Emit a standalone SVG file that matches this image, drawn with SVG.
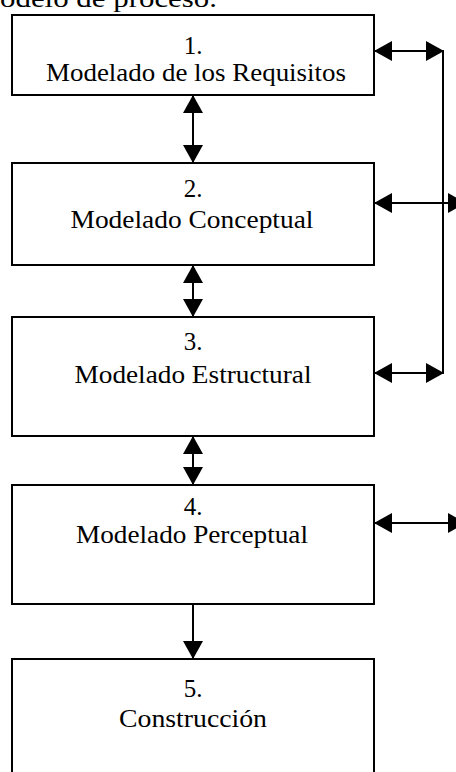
<svg xmlns="http://www.w3.org/2000/svg" width="456" height="772" viewBox="0 0 456 772">
<style>
.box{fill:#fff;stroke:#000;stroke-width:2}
.t{font-family:"Liberation Serif","Times New Roman",serif;font-size:25px;fill:#000;text-anchor:middle}
.c{stroke:#000;stroke-width:2;fill:none}
.d{marker-start:url(#ah);marker-end:url(#ah)}
.s{marker-end:url(#ah)}
</style>
<defs>
<marker id="ah" viewBox="0 0 18 20" refX="17" refY="10" markerWidth="18" markerHeight="20" orient="auto-start-reverse" markerUnits="userSpaceOnUse">
<path d="M0,0 L18,10 L0,20 z" fill="#000"/>
</marker>
</defs>
<rect width="456" height="772" fill="#fff"/>
<text class="t" x="0" y="7" style="text-anchor:start" textLength="217" lengthAdjust="spacingAndGlyphs">odelo de proceso.</text>
<g id="n1">
<rect class="box" x="12" y="15" width="362" height="80"/>
<text class="t" x="193" y="54">1.</text>
<text class="t" x="196" y="81" textLength="300" lengthAdjust="spacingAndGlyphs">Modelado de los Requisitos</text>
</g>
<g id="n2">
<rect class="box" x="12" y="163" width="362" height="102"/>
<text class="t" x="193" y="197">2.</text>
<text class="t" x="192" y="228" textLength="243" lengthAdjust="spacingAndGlyphs">Modelado Conceptual</text>
</g>
<g id="n3">
<rect class="box" x="12" y="317" width="362" height="119"/>
<text class="t" x="193" y="350">3.</text>
<text class="t" x="193" y="383" textLength="237" lengthAdjust="spacingAndGlyphs">Modelado Estructural</text>
</g>
<g id="n4">
<rect class="box" x="12" y="485" width="362" height="119"/>
<text class="t" x="193" y="515">4.</text>
<text class="t" x="192" y="543" textLength="232" lengthAdjust="spacingAndGlyphs">Modelado Perceptual</text>
</g>
<g id="n5">
<rect class="box" x="12" y="659" width="362" height="130"/>
<text class="t" x="193" y="697">5.</text>
<text class="t" x="193" y="727" textLength="148" lengthAdjust="spacingAndGlyphs">Construcción</text>
</g>
<g id="connectors">
<line class="c d" x1="193" y1="96" x2="193" y2="162"/>
<line class="c d" x1="193" y1="266" x2="193" y2="316"/>
<line class="c d" x1="193" y1="437" x2="193" y2="484"/>
<line class="c s" x1="193" y1="605" x2="193" y2="658"/>
<line class="c d" x1="375" y1="51" x2="443" y2="51"/>
<line class="c d" x1="375" y1="203" x2="465" y2="203"/>
<line class="c d" x1="375" y1="373" x2="443" y2="373"/>
<line class="c d" x1="375" y1="523" x2="465" y2="523"/>
<line class="c" x1="443" y1="50" x2="443" y2="374"/>
</g>
</svg>
